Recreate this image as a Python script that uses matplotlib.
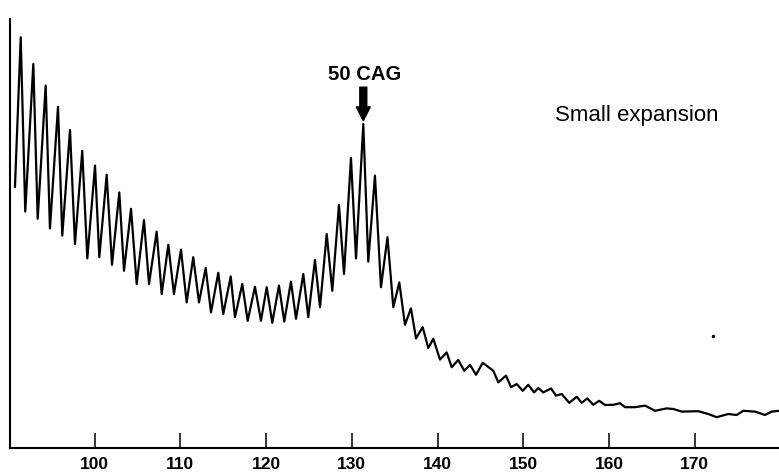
import matplotlib.pyplot as plt

plt.rcParams['font.family'] = ['Liberation Sans', 'DejaVu Sans']

# trace: size (x) vs. signal (arbitrary units)
trace_x = [90.70, 91.37, 91.90, 92.84, 93.35, 94.28, 94.78, 95.72, 96.22, 97.12,
           97.70, 98.55, 99.14, 100.04, 100.54, 101.40, 102.02, 102.87, 103.42, 104.24,
           104.90, 105.75, 106.34, 107.23, 107.82, 108.59, 109.25, 110.07, 110.73, 111.50,
           112.17, 112.95, 113.57, 114.42, 115.00, 115.87, 116.37, 117.22, 117.85, 118.70,
           119.40, 120.07, 120.72, 121.50, 122.12, 122.90, 123.49, 124.34, 124.92, 125.70,
           126.29, 127.07, 127.72, 128.50, 129.09, 129.90, 130.49, 131.34, 131.92, 132.70,
           133.40, 134.16, 134.84, 135.54, 136.20, 136.90, 137.49, 138.27, 138.92, 139.51,
           140.29, 141.07, 141.65, 142.42, 143.12, 143.79, 144.49, 145.27, 146.51, 147.09,
           147.99, 148.57, 149.24, 149.94, 150.59, 151.26, 151.76, 152.34, 153.24, 153.82,
           154.49, 155.37, 156.24, 156.82, 157.47, 158.17, 158.87, 159.54, 160.51, 161.29,
           161.87, 163.04, 164.21, 165.37, 166.74, 167.51, 168.49, 170.42, 171.59, 172.57,
           173.92, 174.90, 175.67, 177.04, 178.20, 178.99, 179.84]
trace_y = [65.3, 102.7, 59.1, 96.0, 57.3, 90.6, 54.9, 85.3, 53.1, 79.5,
           51.0, 74.3, 47.4, 70.6, 47.7, 68.3, 45.8, 63.9, 44.3, 59.8,
           41.0, 57.0, 41.0, 54.1, 38.5, 50.8, 38.5, 49.6, 36.4, 47.7,
           36.4, 45.0, 33.9, 43.8, 33.5, 42.9, 32.7, 41.0, 31.8, 40.3,
           31.8, 40.2, 31.3, 40.6, 31.6, 41.6, 32.3, 43.5, 32.7, 47.0,
           35.2, 53.5, 39.3, 60.8, 43.5, 72.5, 47.4, 81.0, 46.6, 68.1,
           40.2, 52.7, 35.2, 41.4, 30.8, 34.9, 27.4, 30.2, 25.0, 27.3,
           22.1, 23.9, 20.2, 22.0, 19.3, 20.8, 18.3, 21.3, 19.3, 16.4,
           18.1, 15.2, 16.0, 14.3, 15.8, 13.9, 15.0, 13.9, 14.9, 13.1,
           13.5, 11.3, 12.8, 11.3, 12.4, 10.8, 11.8, 10.75, 10.8, 11.2,
           10.2, 10.2, 10.6, 9.3, 9.9, 9.75, 9.1, 9.2, 8.5, 7.7,
           8.5, 8.25, 9.3, 9.1, 8.25, 9.1, 9.3]
tick_vals = [100, 110, 120, 130, 140, 150, 160, 170]
peak_x, peak_y = 131.34, 81.0
peak_label = '50 CAG'
title_txt = 'Small expansion'
speck_x, speck_y = [172.18], [27.9]

fig = plt.figure(figsize=(7.79, 4.77), dpi=100)
ax = fig.add_axes([10/779, 28/477, 769/779, 429/477])

ax.plot(trace_x, trace_y, color='black', lw=1.6, solid_joinstyle='round')
ax.plot(speck_x, speck_y, 'o', color='black', ms=1.5)

ax.set_xlim(90.12, 179.84)
ax.set_ylim(0, 107.25)

for s in ['top', 'right']:
    ax.spines[s].set_visible(False)
ax.spines['left'].set_linewidth(1.5)
ax.spines['bottom'].set_linewidth(1.5)

ax.set_xticks(tick_vals)
ax.set_xticklabels([str(t) for t in tick_vals], fontsize=12.5, fontweight='bold')
ax.tick_params(axis='x', direction='in', length=11, width=1.1, pad=6)
ax.set_yticks([])

ax.annotate('', xy=(peak_x, peak_y + 0.8), xytext=(peak_x, peak_y + 9.2),
            arrowprops=dict(facecolor='black', edgecolor='black', width=5,
                            headwidth=10, headlength=10, shrink=0))
ax.text(peak_x + 0.1, peak_y + 12.5, peak_label, ha='center', va='center',
        fontsize=14.6, fontweight='bold')
ax.text(0.815, 0.778, title_txt, transform=ax.transAxes, ha='center', va='center',
        fontsize=16)

fig.savefig('out.png', dpi=100)
